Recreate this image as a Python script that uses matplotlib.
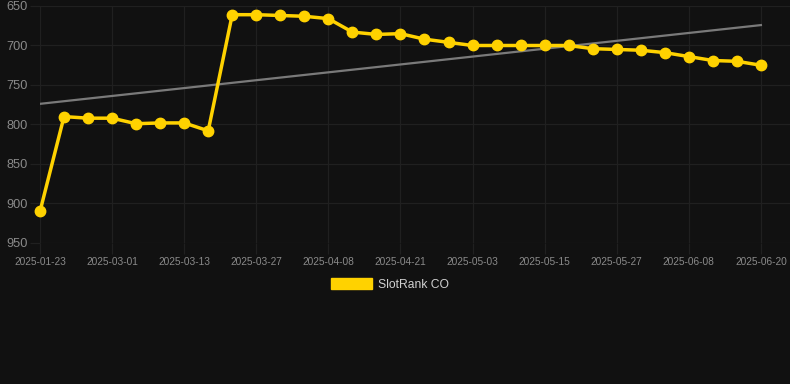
import numpy as np
import matplotlib
matplotlib.use("Agg")
import matplotlib.pyplot as plt
from matplotlib.patches import Patch

plt.rcParams["font.family"] = ["Liberation Sans", "DejaVu Sans"]

dates = [
    "2025-01-23", "2025-02-05", "2025-02-17", "2025-03-01", "2025-03-05",
    "2025-03-09", "2025-03-13", "2025-03-17", "2025-03-22", "2025-03-27",
    "2025-03-31", "2025-04-04", "2025-04-08", "2025-04-12", "2025-04-17",
    "2025-04-21", "2025-04-25", "2025-04-29", "2025-05-03", "2025-05-07",
    "2025-05-11", "2025-05-15", "2025-05-19", "2025-05-23", "2025-05-27",
    "2025-05-31", "2025-06-04", "2025-06-08", "2025-06-12", "2025-06-16",
    "2025-06-20",
]
rank = [
    910, 790, 792, 792, 799, 798, 798, 808, 661, 661,
    662, 663, 666, 683, 686, 685, 692, 696, 700, 700,
    700, 700, 700, 704, 705, 706, 709, 714, 719, 720,
    725,
]
series_name = "SlotRank CO"
y_ticks = [650, 700, 750, 800, 850, 900, 950]

bg = "#111111"
grid = "#202020"
gold = "#FFD200"

x = np.arange(len(dates))
coef = np.polyfit(x, rank, 1)
trend = np.polyval(coef, x)

fig = plt.figure(figsize=(7.9, 3.84), dpi=100, facecolor=bg)
ax = fig.add_axes([40 / 790, 1 - 243 / 384, 750 / 790, 237 / 384])
ax.set_facecolor(bg)

ax.plot(x, trend, color="#7a7a7a", lw=1.6, zorder=2)
ax.plot(x, rank, color=gold, lw=2.5, marker="o", ms=7.5, zorder=3,
        clip_on=False)

step = 24.03
ax.set_xlim(0, 750 / step)
ax.set_ylim(950, 650)
ax.set_yticks(y_ticks)
ax.set_xticks(x[::3])
ax.set_xticklabels(dates[::3])

ax.grid(True, color=grid, lw=0.9)
for s in ax.spines.values():
    s.set_visible(False)
ax.tick_params(axis="y", colors=grid, labelcolor="#8a8a8a", labelsize=9.2,
               length=7, width=0.9, pad=2)
ax.tick_params(axis="x", colors=grid, labelcolor="#8a8a8a", labelsize=7.3,
               length=8, width=0.9, pad=2)

handle = Patch(facecolor=gold, edgecolor=gold)
fig.legend([handle], [series_name], loc="center",
           bbox_to_anchor=(390 / 790, 1 - 284.5 / 384),
           frameon=False, fontsize=8.7, labelcolor="#d0d0d0",
           handlelength=3.4, handleheight=1.0, handletextpad=0.55)

fig.savefig("out.png", dpi=100, facecolor=bg)
